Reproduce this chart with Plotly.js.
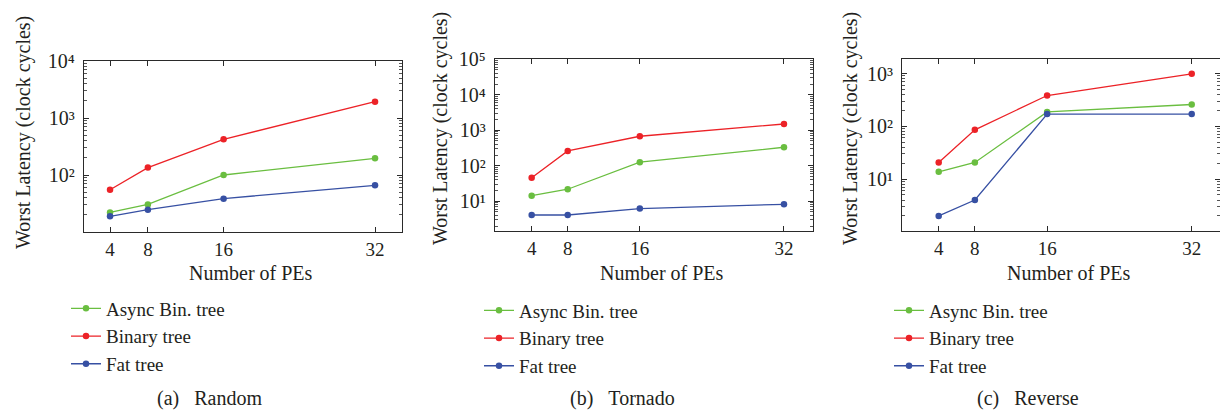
<!DOCTYPE html>
<html>
<head>
<meta charset="utf-8">
<script src="https://cdn.plot.ly/plotly-3.0.1.min.js"></script>
<style>
html,body{margin:0;padding:0;background:#fff;overflow:hidden;}
#chart{width:1220px;height:411px;}
</style>
</head>
<body>
<div id="chart"></div>
<script>
// ---- data ----
const numPEs = [4, 8, 16, 32];
const seriesNames = ["Async Bin. tree", "Binary tree", "Fat tree"];

const randomAsync  = [22, 30.5, 100, 196];
const randomBinary = [55, 135, 423, 1930];
const randomFat    = [18.8, 24.6, 38.5, 66];

const tornadoAsync  = [14.4, 21.8, 126, 332];
const tornadoBinary = [46, 261, 678, 1500];
const tornadoFat    = [4.1, 4.1, 6.2, 8.2];

const reverseAsync  = [13.7, 20.6, 187, 259];
const reverseBinary = [20.6, 85.5, 383, 990];
const reverseFat    = [2, 4, 170, 170];

const captions = ["(a)\u00a0\u00a0\u00a0Random", "(b)\u00a0\u00a0\u00a0Tornado", "(c)\u00a0\u00a0\u00a0Reverse"];
const xTitle = "Number of PEs";
const yTitle = "Worst Latency (clock cycles)";
const supDigits = {"0":"\u2070","1":"\u00b9","2":"\u00b2","3":"\u00b3","4":"\u2074","5":"\u2075"};

// ---- style ----
const W = 1220, H = 411;
const FONT = "Liberation Serif";
const TXT = "#231f20";
const colors = ["rgb(106,190,64)", "rgb(236,34,39)", "rgb(55,80,163)"];
const frame = "#2a2a2a";

function px(x){ return x / W; }
function py(y){ return 1 - y / H; }

const panels = [
  {data:[randomAsync, randomBinary, randomFat],   box:[84, 402, 61, 232],   xr:[1.25, 34.85], yr:[1, 4],       decades:[2,3,4],     legendX:66,  legendY:289.5, title:[24, 133],  xt:[251, 273], cap:[209, 398]},
  {data:[tornadoAsync, tornadoBinary, tornadoFat], box:[495, 813, 59.3, 230.7], xr:[-0.07, 35.22], yr:[0.17, 5], decades:[1,2,3,4,5], legendX:479, legendY:291.5, title:[441, 129], xt:[662, 273], cap:[622, 398]},
  {data:[reverseAsync, reverseBinary, reverseFat], box:[902.3, 1220, 59.3, 230.7], xr:[-0.03, 35.13], yr:[0.02, 3.27], decades:[1,2,3], legendX:889, legendY:291.5, title:[851, 129], xt:[1069, 273], cap:[1028, 398]}
];

const traces = [];
const layout = {
  width: W, height: H,
  margin: {l:0, r:0, t:0, b:0},
  paper_bgcolor: "#fff", plot_bgcolor: "#fff",
  font: {family: FONT, size: 19, color: TXT},
  showlegend: true,
  annotations: []
};

panels.forEach((p, i) => {
  const sx = i === 0 ? "" : String(i + 1);
  const legendKey = i === 0 ? "legend" : "legend" + (i + 1);
  p.data.forEach((vals, k) => {
    traces.push({
      type: "scatter", mode: "lines+markers",
      x: numPEs, y: vals, name: seriesNames[k],
      xaxis: "x" + sx, yaxis: "y" + sx,
      legend: legendKey,
      line: {color: colors[k], width: 1.3},
      marker: {color: colors[k], size: 6.5}
    });
  });
  const majors = p.decades.map(d => Math.pow(10, d));
  const majorText = p.decades.map(d => "10" + supDigits[String(d)]);
  const minors = [];
  for (let d = Math.floor(p.yr[0]); d < Math.ceil(p.yr[1]); d++) {
    for (let m = 2; m <= 9; m++) minors.push(m * Math.pow(10, d));
  }
  layout["xaxis" + sx] = {
    domain: [px(p.box[0]), px(p.box[1])],
    range: p.xr, anchor: "y" + sx,
    tickmode: "array", tickvals: numPEs, ticktext: numPEs.map(String),
    ticks: "inside", ticklen: 5, tickwidth: 1, tickcolor: frame,
    showline: true, linecolor: frame, linewidth: 1.3, mirror: "ticks",
    showgrid: false, zeroline: false,
    tickfont: {family: FONT, size: 19, color: TXT},
    ticklabelstandoff: 0
  };
  layout["yaxis" + sx] = {
    domain: [py(p.box[3]), py(p.box[2])],
    type: "log", range: p.yr, anchor: "x" + sx,
    tickmode: "array", tickvals: majors, ticktext: majorText,
    ticks: "inside", ticklen: 5, tickwidth: 1, tickcolor: frame,
    minor: {tickmode: "array", tickvals: minors, ticks: "inside", ticklen: 3, tickwidth: 0.8, tickcolor: frame, showgrid: false},
    showline: true, linecolor: frame, linewidth: 1.3, mirror: "allticks",
    showgrid: false, zeroline: false,
    tickfont: {family: FONT, size: 20, color: TXT},
    ticklabelstandoff: 4
  };
  layout[legendKey] = {
    x: px(p.legendX), y: py(p.legendY), xanchor: "left", yanchor: "top",
    bgcolor: "rgba(0,0,0,0)", borderwidth: 0,
    font: {family: FONT, size: 19, color: TXT},
    itemwidth: 30, tracegroupgap: 0
  };
  layout.annotations.push({
    text: yTitle, xref: "paper", yref: "paper",
    x: px(p.title[0]), y: py(p.title[1]), xanchor: "center", yanchor: "middle",
    textangle: -90, showarrow: false, font: {family: FONT, size: 20, color: TXT}
  });
  layout.annotations.push({
    text: xTitle, xref: "paper", yref: "paper",
    x: px(p.xt[0]), y: py(p.xt[1]), xanchor: "center", yanchor: "middle",
    showarrow: false, font: {family: FONT, size: 20, color: TXT}
  });
  layout.annotations.push({
    text: captions[i], xref: "paper", yref: "paper",
    x: px(p.cap[0]), y: py(p.cap[1]), xanchor: "center", yanchor: "middle",
    showarrow: false, font: {family: FONT, size: 20, color: TXT}
  });
});

Plotly.newPlot("chart", traces, layout, {displayModeBar: false, staticPlot: true});
</script>
</body>
</html>
